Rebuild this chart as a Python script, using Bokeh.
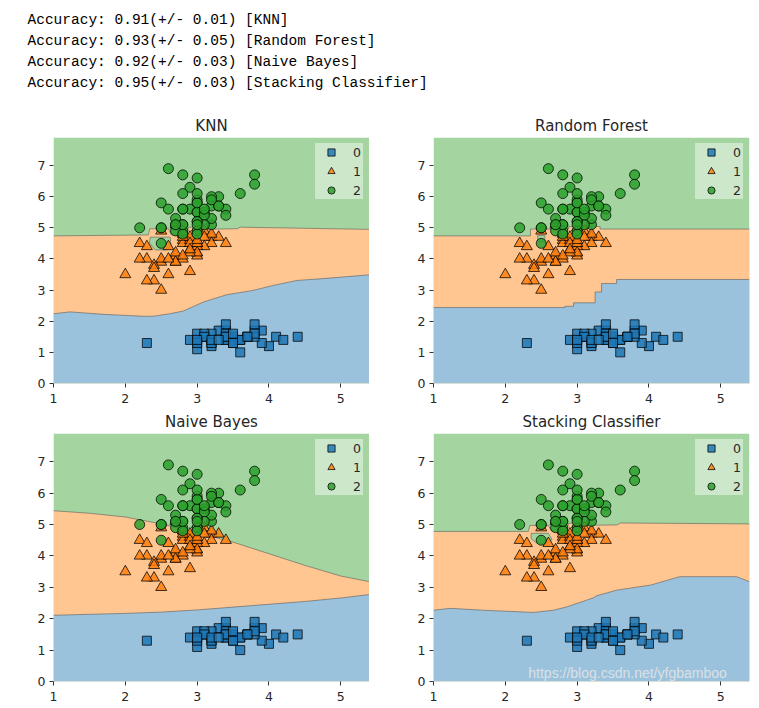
from bokeh.plotting import figure
from bokeh.layouts import column, row
from bokeh.models import Range1d, FixedTicker, Legend, LegendItem, Label
from bokeh.core.properties import value
from bokeh.embed import file_html
from bokeh.resources import INLINE

# ---------------- data ----------------
MODELS = ["KNN", "Random Forest", "Naive Bayes", "Stacking Classifier"]
ACC_MEAN = [0.91, 0.93, 0.92, 0.95]
ACC_STD = [0.01, 0.05, 0.03, 0.03]

CLASS_LABELS = ["0", "1", "2"]
XLIM = [1.0, 5.4]
YLIM = [0.0, 7.9]
X_TICKS = [1, 2, 3, 4, 5]
Y_TICKS = [0, 1, 2, 3, 4, 5, 6, 7]
WATERMARK = "https://blog.csdn.net/yfgbamboo"

# iris: sepal width (x) vs petal length (y)
c0_x = [3.5, 3.0, 3.2, 3.1, 3.6, 3.9, 3.4, 3.4, 2.9, 3.1, 3.7, 3.4, 3.0, 3.0, 4.0, 4.4, 3.9, 3.5, 3.8, 3.8,
        3.4, 3.7, 3.6, 3.3, 3.4, 3.0, 3.4, 3.5, 3.4, 3.2, 3.1, 3.4, 4.1, 4.2, 3.1, 3.2, 3.5, 3.6, 3.0, 3.4,
        3.5, 2.3, 3.2, 3.5, 3.8, 3.0, 3.8, 3.2, 3.7, 3.3]
c0_y = [1.4, 1.4, 1.3, 1.5, 1.4, 1.7, 1.4, 1.5, 1.4, 1.5, 1.5, 1.6, 1.4, 1.1, 1.2, 1.5, 1.3, 1.4, 1.7, 1.5,
        1.7, 1.5, 1.0, 1.7, 1.9, 1.6, 1.6, 1.5, 1.4, 1.6, 1.6, 1.5, 1.5, 1.4, 1.5, 1.2, 1.3, 1.4, 1.3, 1.5,
        1.3, 1.3, 1.3, 1.6, 1.9, 1.4, 1.6, 1.4, 1.5, 1.4]
c1_x = [3.2, 3.2, 3.1, 2.3, 2.8, 2.8, 3.3, 2.4, 2.9, 2.7, 2.0, 3.0, 2.2, 2.9, 2.9, 3.1, 3.0, 2.7, 2.2, 2.5,
        3.2, 2.8, 2.5, 2.8, 2.9, 3.0, 2.8, 3.0, 2.9, 2.6, 2.4, 2.4, 2.7, 2.7, 3.0, 3.4, 3.1, 2.3, 3.0, 2.5,
        2.6, 3.0, 2.6, 2.3, 2.7, 3.0, 2.9, 2.9, 2.5, 2.8]
c1_y = [4.7, 4.5, 4.9, 4.0, 4.6, 4.5, 4.7, 3.3, 4.6, 3.9, 3.5, 4.2, 4.0, 4.7, 3.6, 4.4, 4.5, 4.1, 4.5, 3.9,
        4.8, 4.0, 4.9, 4.7, 4.3, 4.4, 4.8, 5.0, 4.5, 3.5, 3.8, 3.7, 3.9, 5.1, 4.5, 4.5, 4.7, 4.4, 4.1, 4.0,
        4.4, 4.6, 4.0, 3.3, 4.2, 4.2, 4.2, 4.3, 3.0, 4.1]
c2_x = [3.3, 2.7, 3.0, 2.9, 3.0, 3.0, 2.5, 2.9, 2.5, 3.6, 3.2, 2.7, 3.0, 2.5, 2.8, 3.2, 3.0, 3.8, 2.6, 2.2,
        3.2, 2.8, 2.8, 2.7, 3.3, 3.2, 2.8, 3.0, 2.8, 3.0, 2.8, 3.8, 2.8, 2.8, 2.6, 3.0, 3.4, 3.1, 3.0, 3.1,
        3.1, 3.1, 2.7, 3.2, 3.3, 3.0, 2.5, 3.0, 3.4, 3.0]
c2_y = [6.0, 5.1, 5.9, 5.6, 5.8, 6.6, 4.5, 6.3, 5.8, 6.1, 5.1, 5.3, 5.5, 5.0, 5.1, 5.3, 5.5, 6.7, 6.9, 5.0,
        5.7, 4.9, 6.7, 4.9, 5.7, 6.0, 4.8, 4.9, 5.6, 5.8, 6.1, 6.4, 5.6, 5.1, 5.6, 6.1, 5.6, 5.5, 4.8, 5.4,
        5.6, 5.1, 5.1, 5.9, 5.7, 5.2, 5.0, 5.2, 5.4, 5.1]

# decision boundaries (class 0|1 and class 1|2)
knn_b01_x = [1.0, 1.23, 1.70, 2.25, 2.39, 2.62, 2.81, 3.09, 3.41, 3.78, 4.06, 4.39, 4.71, 5.4]
knn_b01_y = [2.24, 2.30, 2.22, 2.16, 2.16, 2.24, 2.33, 2.62, 2.85, 2.99, 3.15, 3.31, 3.36, 3.49]
knn_b12_x = [1.0, 2.32, 2.34, 2.60, 2.64, 2.86, 2.88, 3.02, 3.04, 3.56, 3.60, 5.4]
knn_b12_y = [4.74, 4.77, 4.97, 4.97, 4.77, 4.77, 5.02, 5.02, 4.95, 4.97, 5.02, 4.95]
knn_isl_x = [2.347, 2.625, 2.635, 2.58, 2.416, 2.337]
knn_isl_y = [4.70, 4.70, 4.43, 4.29, 4.29, 4.51]

rf_b01_x = [1.0, 2.83, 2.83, 2.95, 2.95, 3.25, 3.25, 3.34, 3.34, 3.55, 3.55, 5.4]
rf_b01_y = [2.44, 2.44, 2.48, 2.48, 2.59, 2.59, 2.94, 2.94, 3.21, 3.21, 3.34, 3.34]
rf_b12_x = [1.0, 2.35, 2.35, 2.88, 2.88, 3.32, 3.32, 5.4]
rf_b12_y = [4.74, 4.74, 4.96, 4.96, 5.04, 5.04, 4.96, 4.96]
rf_isl_x = [2.45, 2.55, 2.55, 2.45]
rf_isl_y = [4.55, 4.55, 4.75, 4.75]

nb_b01_x = [1.0, 1.5, 2.0, 2.5, 3.0, 3.5, 4.0, 4.5, 5.0, 5.4]
nb_b01_y = [2.11, 2.14, 2.17, 2.21, 2.28, 2.37, 2.46, 2.55, 2.66, 2.77]
nb_b12_x = [1.0, 1.5, 2.0, 2.5, 3.0, 3.5, 4.0, 4.5, 5.0, 5.4]
nb_b12_y = [5.44, 5.36, 5.24, 5.02, 4.74, 4.44, 4.07, 3.70, 3.36, 3.18]

st_b01_x = [1.0, 1.23, 1.70, 2.39, 2.67, 2.86, 3.13, 3.23, 3.27, 3.55, 4.02, 4.43, 5.22, 5.4]
st_b01_y = [2.27, 2.33, 2.27, 2.20, 2.27, 2.38, 2.59, 2.67, 2.73, 2.91, 3.07, 3.34, 3.34, 3.18]
st_b12_x = [1.0, 2.32, 2.34, 2.60, 2.64, 2.86, 2.88, 3.02, 3.04, 3.56, 3.60, 5.4]
st_b12_y = [4.78, 4.78, 4.97, 4.97, 4.80, 4.80, 5.04, 5.04, 4.97, 4.99, 5.05, 5.02]
st_isl_x = [2.36, 2.60, 2.65, 2.58, 2.44, 2.36]
st_isl_y = [4.72, 4.72, 4.52, 4.40, 4.40, 4.55]

# ---------------- style ----------------
MARK_COL = ["#1f77b4", "#ff7f0e", "#2ca02c"]
REG_COL = ["#9ac2dd", "#ffc692", "#a4d4a0"]
TXT = "#262626"
FONT = "DejaVu Sans"


def panel(title, b01x, b01y, b12x, b12y, isl, left, right, top, bottom, fh, watermark=False):
    p = figure(frame_width=316, frame_height=fh, min_border_left=left, min_border_right=right,
               min_border_top=top, min_border_bottom=bottom,
               x_range=Range1d(XLIM[0], XLIM[1]), y_range=Range1d(YLIM[0], YLIM[1]),
               output_backend="svg", toolbar_location=None, title=title)
    p.title.align = "center"
    p.title.text_font = FONT
    p.title.text_font_size = "15px"
    p.title.text_font_style = "normal"
    p.title.text_color = TXT
    p.title.standoff = 5
    p.grid.visible = False
    p.outline_line_color = None
    p.background_fill_color = "white"
    p.xaxis.ticker = FixedTicker(ticks=X_TICKS)
    p.yaxis.ticker = FixedTicker(ticks=Y_TICKS)
    for ax in (p.xaxis, p.yaxis):
        ax.axis_line_color = None
        ax.major_tick_line_color = "#333333"
        ax.major_tick_out = 4
        ax.major_tick_in = 0
        ax.minor_tick_line_color = None
        ax.major_label_text_font = FONT
        ax.major_label_text_font_size = "12.5px"
        ax.major_label_text_color = TXT
    p.xaxis.major_label_standoff = 6
    p.yaxis.major_label_standoff = 4

    # regions
    p.quad(left=[XLIM[0]], right=[XLIM[1]], bottom=[YLIM[0]], top=[YLIM[1]],
           fill_color=REG_COL[2], line_color=None)
    p.patch(b12x + [XLIM[1], XLIM[0]], b12y + [YLIM[0], YLIM[0]],
            fill_color=REG_COL[1], line_color=None)
    p.patch(b01x + [XLIM[1], XLIM[0]], b01y + [YLIM[0], YLIM[0]],
            fill_color=REG_COL[0], line_color=None)
    if isl is not None:
        p.patch(isl[0], isl[1], fill_color=REG_COL[2], line_color="#555555",
                line_width=0.8, line_alpha=0.7)
    p.line(b12x, b12y, line_color="#555555", line_width=0.8, line_alpha=0.7)
    p.line(b01x, b01y, line_color="#555555", line_width=0.8, line_alpha=0.7)

    r0 = p.scatter(c0_x, c0_y, marker="square", size=9, fill_color=MARK_COL[0], fill_alpha=0.85,
                   line_color="black", line_alpha=0.75, line_width=1)
    r1 = p.scatter(c1_x, c1_y, marker="triangle", size=11, fill_color=MARK_COL[1], fill_alpha=0.85,
                   line_color="black", line_alpha=0.75, line_width=1)
    r2 = p.scatter(c2_x, c2_y, marker="circle", size=10, fill_color=MARK_COL[2], fill_alpha=0.85,
                   line_color="black", line_alpha=0.75, line_width=1)

    leg = Legend(items=[LegendItem(label=CLASS_LABELS[0], renderers=[r0]),
                        LegendItem(label=CLASS_LABELS[1], renderers=[r1]),
                        LegendItem(label=CLASS_LABELS[2], renderers=[r2])],
                 location="top_right")
    leg.background_fill_color = "white"
    leg.background_fill_alpha = 0.45
    leg.border_line_color = None
    leg.padding = 2
    leg.margin = 6
    leg.spacing = 1
    leg.glyph_width = 32
    leg.glyph_height = 18
    leg.label_height = 18
    leg.label_standoff = 6
    leg.label_width = 10
    leg.label_text_font = FONT
    leg.label_text_font_size = "12.5px"
    leg.label_text_color = TXT
    p.add_layout(leg)

    if watermark:
        p.add_layout(Label(x=2.32, y=YLIM[0], y_offset=1, text=WATERMARK,
                           text_font="Liberation Sans", text_font_size="14px", text_color="#e4e4e4",
                           text_alpha=0.9, text_baseline="bottom"))
    return p


# header text
lines = ["Accuracy: %0.2f(+/- %0.2f) [%s]" % (m, s, n) for m, s, n in zip(ACC_MEAN, ACC_STD, MODELS)]
head = figure(width=751, height=108, x_range=Range1d(0, 751), y_range=Range1d(4.178, -0.892),
              x_axis_location=None, y_axis_location=None, min_border=0,
              output_backend="svg", toolbar_location=None)
head.grid.visible = False
head.outline_line_color = None
head.text(x=[0] * len(lines), y=list(range(len(lines))), text=lines, x_offset=27,
          text_font=value("Liberation Mono"), text_font_size="14.5px", text_color="black",
          text_baseline="middle")

p1 = panel(MODELS[0], knn_b01_x, knn_b01_y, knn_b12_x, knn_b12_y, (knn_isl_x, knn_isl_y), 53, 0, 29, 22, 246)
p2 = panel(MODELS[1], rf_b01_x, rf_b01_y, rf_b12_x, rf_b12_y, (rf_isl_x, rf_isl_y), 64, 2, 29, 22, 246)
p3 = panel(MODELS[2], nb_b01_x, nb_b01_y, nb_b12_x, nb_b12_y, None, 53, 0, 28, 19, 248)
p4 = panel(MODELS[3], st_b01_x, st_b01_y, st_b12_x, st_b12_y, (st_isl_x, st_isl_y), 64, 2, 28, 19, 248,
           watermark=True)

layout = column(head, row(p1, p2), row(p3, p4))
open("out.html", "w").write(file_html(layout, INLINE))
